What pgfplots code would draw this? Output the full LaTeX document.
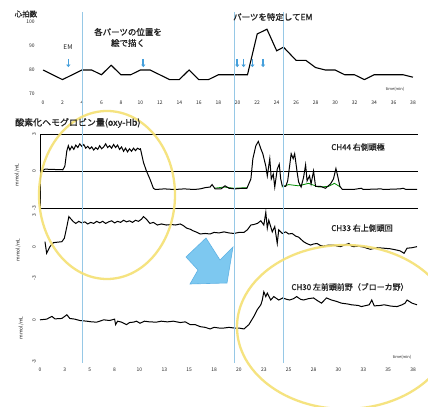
\documentclass[border=0pt]{standalone}
\usepackage{fontspec}
\setmainfont{Noto Sans CJK JP}
\newfontfamily\jpb[FakeBold=1.2]{Noto Sans CJK JP}
\usepackage{pgfplots}
\pgfplotsset{compat=1.18}
\usetikzlibrary{arrows.meta}

\definecolor{vline}{RGB}{150,200,230}
\definecolor{arrowblue}{RGB}{70,160,220}
\definecolor{bigarrow}{RGB}{125,200,240}
\definecolor{bigarrowedge}{RGB}{95,178,228}
\definecolor{ell}{RGB}{245,224,115}
\definecolor{txt}{RGB}{35,35,35}

\newcommand{\fs}[1]{\fontsize{#1}{#1}\selectfont}

\pgfplotsset{
  panel/.style={scale only axis, anchor=south west, clip=false,
    /pgf/number format/assume math mode=true,
    axis line style={draw=none},
    tick style={draw=none},
    every tick label/.append style={font=\fs{5}, text=txt},
  },
}
\tikzset{evarrow/.style={arrowblue, line width=1.6bp, -{Triangle[length=2.6bp,width=4.2bp]}}}

\begin{document}
\begin{tikzpicture}
\useasboundingbox (0,0) rectangle (428bp,407bp);
\fill[white] (0,0) rectangle (428bp,407bp);

% ---------------- heart rate ----------------
\begin{axis}[panel, at={(38.13bp,313bp)}, width=379.74bp, height=72bp,
  xmin=-0.5, xmax=38.5, ymin=70, ymax=100,
  xtick={0,2,...,38}, ytick={70,80,90,100},
  xticklabel style={anchor=center, yshift=-9bp},
  yticklabel style={anchor=east}]
\addplot[black, line width=1.1bp] coordinates {
(0,80)(2,76)(4,80)(5,80)(6,78)(7,82)(8,78)(9,78)(10,80)(11,80)(12,78)(13,76)(14,76)
(15,80)(16,76)(17,76)(18,78)(21,78)(22,95)(23,97)(24,88)(24.7,89.5)(26,84)(27,84)
(28,81)(29,80)(30,80)(31,78)(32,78)(33,76)(34,78)(37,78)(38,77)};
\draw[evarrow] (axis cs:2.6,84.6) -- (axis cs:2.6,81.2);
\draw[evarrow] (axis cs:10.3,84.6) -- (axis cs:10.3,81.2);
\draw[evarrow] (axis cs:19.95,84.6) -- (axis cs:19.95,81.2);
\draw[evarrow] (axis cs:20.6,84.6) -- (axis cs:20.6,81.2);
\draw[evarrow] (axis cs:21.5,84.6) -- (axis cs:21.5,81.2);
\draw[evarrow] (axis cs:22.6,84.6) -- (axis cs:22.6,81.2);
\end{axis}

% ---------------- CH44 ----------------
\begin{axis}[panel, at={(40bp,199bp)}, width=378bp, height=74bp,
  xmin=0, xmax=38, ymin=-3, ymax=3, xtick=\empty,
  ytick={-3,0,3}, yticklabels={-3,0,3},
  yticklabel style={anchor=center, xshift=-6bp, rotate=90}]
\draw[black, line width=0.9bp] (rel axis cs:0,1) -- (rel axis cs:1,1);
\draw[black, line width=0.9bp] (rel axis cs:0,0) -- (rel axis cs:1,0);
\draw[black, line width=0.9bp] (rel axis cs:0,0) -- (rel axis cs:0,1);
\draw[black, line width=0.8bp] (axis cs:0,0) -- (axis cs:38,0);
\addplot[green!55!black, line width=0.8bp] coordinates {
(17.5,-1.4)(18.5,-1.3)(19.5,-1.4)(20.8,-1.35)};
\addplot[green!55!black, line width=0.8bp] coordinates {
(24.3,-1.3)(25,-1.1)(26,-1.2)(27,-1.0)(28,-1.3)(29,-1.25)(29.6,-1.0)(30.2,-1.3)};
\addplot[black, line width=1bp] coordinates {
(0,0)(0.3,0.05)(0.5,0.15)(2.3,0.1)(2.5,0.4)(2.7,1.65)(2.85,2.05)
(3.0,1.7)(3.2,2.0)(3.4,1.75)(3.6,2.1)(3.8,1.9)(4.0,2.2)(4.2,2.0)(4.4,2.15)(4.6,1.85)
(4.8,2.0)(5.0,1.8)(5.2,1.95)(5.4,1.7)(5.6,1.9)(5.8,1.75)(6.0,2.05)(6.2,1.8)(6.4,1.95)
(6.6,2.2)(6.8,1.9)(7.0,2.05)(7.2,1.85)(7.4,2.15)(7.6,1.9)(7.8,2.1)(8.0,1.75)(8.2,1.95)
(8.4,1.6)(8.6,1.85)(8.8,1.55)(9.0,1.8)(9.2,1.6)(9.4,1.85)(9.6,1.65)(9.8,1.85)(10.0,1.75)
(10.1,1.8)(10.4,0.7)(10.7,0.0)(11.05,-0.65)(11.4,-1.4)(11.6,-1.5)(12.5,-1.45)(13.5,-1.5)
(14.5,-1.45)(15.5,-1.5)(16.1,-1.45)(16.6,-1.35)(17.1,-1.3)(17.3,-1.1)(17.6,-1.45)
(18.2,-1.45)(18.6,-1.2)(19.0,-1.4)(19.6,-1.45)(20.3,-1.4)(20.8,-1.4)(21.2,-0.65)
(21.4,1.0)(21.7,2.05)(21.95,2.4)(22.2,1.8)(22.4,1.4)(22.7,0.4)(22.85,-0.4)(23.1,1.0)
(23.25,-0.65)(23.45,-0.25)(23.6,-1.3)(23.85,0.15)(24.05,0.55)(24.2,-0.65)(24.35,-1.2)
(24.7,-1.25)(24.9,-0.8)(25.25,1.4)(25.45,1.0)(25.6,1.4)(25.85,-0.1)(26.0,-0.9)
(26.25,-1.3)(26.5,-0.5)(26.7,0.5)(26.85,-0.8)(27.1,-0.4)(27.25,-1.05)(27.5,0.0)
(27.7,-1.25)(28.2,-1.25)(28.7,-1.4)(29.2,-1.05)(29.5,-0.65)(29.75,0.2)(29.95,-0.5)
(30.15,-1.25)(30.4,-1.5)(31.5,-1.5)(32.3,-1.4)(32.5,-1.5)(34.3,-1.45)(34.5,-1.5)
(36.2,-1.45)(36.5,-1.4)(36.8,-1.5)(37.9,-1.5)};
\end{axis}

% ---------------- CH33 ----------------
\begin{axis}[panel, at={(40bp,128.7bp)}, width=378bp, height=63.3bp,
  xmin=0, xmax=38, ymin=-3, ymax=3, xtick=\empty,
  ytick={-3,0,3}, yticklabels={-3,0,3},
  yticklabel style={anchor=center, xshift=-6bp, rotate=90}]
\addplot[black, line width=1bp] coordinates {
(0.5,0.47)(0.67,-0.63)(1.0,0)(1.35,0.38)(2.2,0.47)(2.45,0.8)(2.7,1.9)(2.9,2.85)(3.35,2.37)
(3.6,2.2)(3.9,2.4)(4.2,2.25)(4.5,2.35)(4.8,2.15)(5.1,2.3)(5.4,2.2)(5.7,2.4)(6.0,2.25)
(6.3,2.4)(6.6,2.2)(6.9,2.35)(7.2,2.45)(7.5,2.25)(7.8,2.4)(8.1,2.3)(8.4,2.5)(8.7,2.35)
(9.0,2.45)(9.3,2.3)(9.6,2.5)(9.9,2.4)(10.2,2.6)(10.4,2.85)(10.7,2.6)(11.05,2.2)(11.4,2.3)
(11.8,2.05)(12.2,2.15)(12.7,2.05)(13.2,2.1)(13.6,2.05)(14.1,2.15)(14.4,2.0)(14.75,1.75)
(15.1,1.65)(15.4,1.5)(15.8,1.35)(16.1,1.2)(16.6,1.25)(17.1,1.2)(17.5,1.35)(18.0,1.3)
(18.5,1.4)(19.0,1.3)(19.5,1.25)(20.0,1.35)(20.5,1.35)(20.85,1.6)(21.2,2.05)(21.5,2.1)
(21.85,2.2)(22.2,2.45)(22.5,2.05)(22.7,3.25)(22.85,1.75)(23.0,2.5)(23.35,1.4)(23.6,1.9)
(23.85,0.3)(24.0,1.6)(24.35,1.25)(24.7,1.4)(25.0,1.2)(25.35,1.25)(25.7,1.0)(26.0,0.9)
(26.5,0.47)(26.8,0.3)(27.2,0.15)(27.5,0.25)(27.85,0.3)(28.2,0.1)(28.5,0.05)(29.0,0.15)
(29.55,0.15)(29.9,0.05)(30.2,0)(30.6,0.15)(31.05,0.3)(31.3,0.05)(31.55,0)(32.0,0.05)
(32.55,-0.05)(33.2,-0.25)(33.9,-0.1)(34.6,-0.15)(35.2,-0.2)(35.75,-0.3)(36.2,-0.4)
(36.6,-0.63)(36.9,-0.15)(37.4,-0.1)(37.9,0)};
\end{axis}

% ---------------- CH30 ----------------
\begin{axis}[panel, at={(40bp,45.5bp)}, width=378bp, height=82bp,
  xmin=0, xmax=38, ymin=-3, ymax=3,
  xtick={0,2.5,...,37.5},
  xticklabels={0,3,5,8,10,13,15,18,20,23,25,28,30,33,35,38},
  xticklabel style={anchor=center, yshift=-8.5bp},
  ytick={-3,0}, yticklabels={-3,0},
  yticklabel style={anchor=center, xshift=-6bp, rotate=90}]
\addplot[black, line width=1bp] coordinates {
(0,0.05)(0.67,0.1)(1.2,0.3)(1.5,0.12)(2.2,0.15)(2.7,0.42)(3.0,0.15)(3.5,0.1)(4.0,0)
(4.7,-0.05)(5.2,-0.1)(5.7,-0.12)(6.0,-0.05)(6.4,0.05)(7.0,0)(7.5,0.1)(7.6,-0.3)(7.8,-0.05)
(8.2,-0.12)(8.7,-0.3)(9.0,-0.15)(9.4,-0.12)(9.7,-0.05)(10.05,-0.2)(10.5,-0.05)(11.0,-0.1)
(11.7,-0.12)(12.2,-0.05)(12.8,-0.1)(13.4,-0.05)(14.1,-0.15)(14.6,-0.1)(15.1,-0.3)
(15.6,-0.3)(16.1,-0.45)(16.6,-0.5)(17.1,-0.62)(17.5,-0.5)(18.0,-0.55)(18.5,-0.55)
(19.0,-0.5)(19.5,-0.55)(20.0,-0.55)(20.5,-0.62)(21.0,-0.3)(21.5,0.3)(21.85,0.8)
(22.2,1.15)(22.35,1.5)(22.5,2.1)(22.7,1.75)(22.85,2.0)(23.2,1.5)(23.5,1.75)(23.8,1.6)
(24.0,1.5)(24.4,1.65)(24.8,1.55)(25.1,1.5)(25.5,1.6)(25.8,1.75)(26.2,1.55)(26.5,1.5)
(27.0,1.6)(27.5,1.65)(27.9,1.45)(28.3,1.27)(28.8,1.65)(29.3,1.5)(29.8,1.4)(30.3,1.27)
(31.0,1.2)(31.3,1.15)(32.0,1.1)(32.3,1.02)(32.8,1.1)(33.1,1.15)(33.35,1.5)(33.6,1.07)
(34.2,1.1)(34.6,1.15)(35.3,1.05)(35.9,1.02)(36.4,1.15)(36.7,1.27)(36.9,1.5)(37.4,1.27)
(37.9,1.15)};
\end{axis}

% ---------------- annotations (image coordinates) ----------------
\begin{scope}[yshift=407bp, x=1bp, y=-1bp]
\draw[vline, line width=0.7bp] (82,12) -- (82,363);
\draw[vline, line width=0.7bp] (234,12) -- (234,363);
\draw[vline, line width=0.7bp] (283,12) -- (283,363);
\filldraw[fill=bigarrow, draw=bigarrowedge, line width=0.6bp]
  (206,238) -- (186,257) -- (198,270) -- (190,284) -- (227,283) -- (233,247) -- (220,260) -- cycle;
\draw[ell, line width=2.3bp, opacity=0.9] (107,195) ellipse [x radius=68, y radius=84];
\draw[ell, line width=2.3bp, opacity=0.9] (345,327) ellipse [x radius=108, y radius=82];

\node[text=txt, font=\jpb\fs{7.5}] at (26,14) {心拍数};
\node[text=txt, font=\fs{6.5}] at (68,47) {EM};
\node[text=txt, font=\jpb\fs{8.5}] at (128,32) {各パーツの位置を};
\node[text=txt, font=\jpb\fs{8.5}] at (128,43) {絵で描く};
\node[text=txt, font=\jpb\fs{8.5}, anchor=west, inner sep=0pt] at (233,17) {パーツを特定してEM};
\node[text=txt, font=\fs{4}] at (395,89) {time(min)};
\node[text=txt, font=\fs{4}] at (402,357) {time(min)};
\node[text=txt, font=\jpb\fs{9}, anchor=west, inner sep=0pt] at (15,123) {酸素化ヘモグロビン量(oxy-Hb)};
\node[text=txt, font=\jpb\fs{8}] at (358,147) {CH44 右側頭極};
\node[text=txt, font=\jpb\fs{8}] at (362,228) {CH33 右上側頭回};
\node[text=txt, font=\jpb\fs{8}] at (350,287) {CH30 左前頭前野（ブローカ野）};
\node[text=txt, font=\fs{5}, rotate=90] at (17,175) {mmol/mL};
\node[text=txt, font=\fs{5}, rotate=90] at (18,250) {mmol/mL};
\node[text=txt, font=\fs{5}, rotate=90] at (21,328) {mmol/mL};
\end{scope}
\end{tikzpicture}
\end{document}
